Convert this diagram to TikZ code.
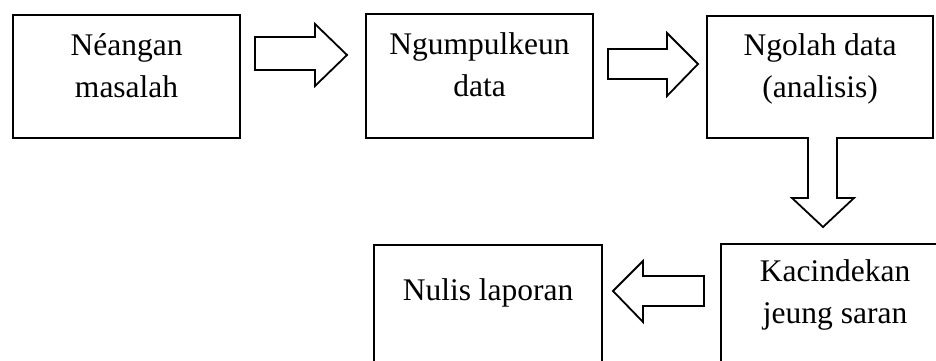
\documentclass[tikz,border=0pt]{standalone}
\usepackage{fontspec}
\setmainfont{Liberation Serif}
\begin{document}
\begin{tikzpicture}[x=1pt,y=-1pt,
  box/.style={draw,line width=2.2pt,rectangle,inner sep=0pt,anchor=north west},
  lbl/.style={font=\fontsize{31.5}{41.5}\selectfont,align=center,anchor=base,inner sep=0pt},
  blockarrow/.style={draw,line width=1.8pt,fill=white,line join=miter}]
\useasboundingbox (0,0) rectangle (936,361);
\clip (0,0) rectangle (936,361);
% boxes
\node[box,minimum width=227pt,minimum height=123pt] (b1) at (12,14) {};
\node[box,minimum width=227pt,minimum height=124pt] (b2) at (365,13) {};
\node[box,minimum width=226pt,minimum height=122pt] (b3) at (706,15) {};
\node[box,minimum width=228pt,minimum height=130pt] (b4) at (720,243) {};
\node[box,minimum width=228pt,minimum height=130pt] (b5) at (373,244) {};
% labels (base anchor = baseline of last line)
\node[lbl] (t1) at (b1.north |- 0,97) {Néangan\\masalah};
\node[lbl] (t2) at (b2.north |- 0,96) {Ngumpulkeun\\data};
\node[lbl] (t3) at (b3.north |- 0,97) {Ngolah data\\(analisis)};
\node[lbl] (t4) at (b4.north |- 0,323) {Kacindekan\\jeung saran};
\node[lbl] (t5) at (b5.north |- 0,300) {Nulis laporan};
% block arrows
\draw[blockarrow] (255,37) -- (315,37) -- (315,24) -- (347,55) -- (315,86) -- (315,70) -- (255,70) -- cycle;
\draw[blockarrow] (608,49) -- (667,49) -- (667,33) -- (698,64) -- (667,96) -- (667,79) -- (608,79) -- cycle;
\draw[blockarrow] (808,137) -- (808,198) -- (792,198) -- (823,227) -- (854,198) -- (837,198) -- (837,137);
\draw[blockarrow] (704,276) -- (643,276) -- (643,261) -- (613,291) -- (643,322) -- (643,306) -- (704,306) -- cycle;
\end{tikzpicture}
\end{document}
